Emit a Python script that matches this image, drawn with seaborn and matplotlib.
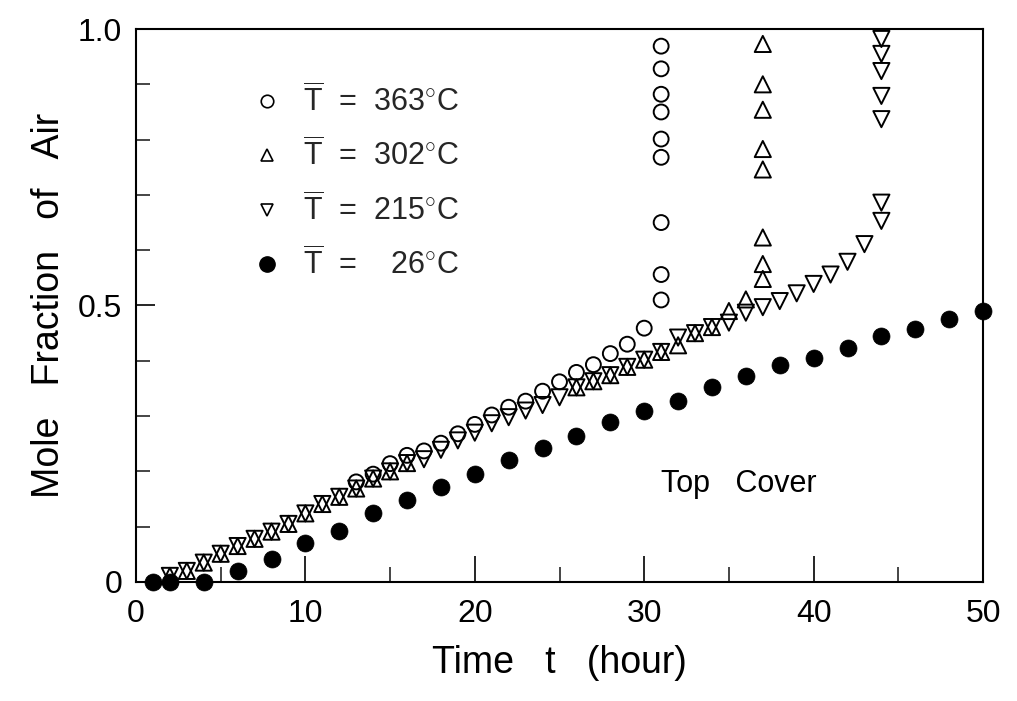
import matplotlib
matplotlib.use("Agg")
import matplotlib.pyplot as plt
from matplotlib.lines import Line2D
from matplotlib.ticker import MultipleLocator
import seaborn as sns
import pandas as pd

# ---------------- data ----------------
# T = 26 C (filled circles)
x_26 = [1, 2, 4, 6, 8, 10, 12, 14, 16, 18, 20, 22, 24, 26, 28, 30,
        32, 34, 36, 38, 40, 42, 44, 46, 48, 50]
y_26 = [0.0, 0.0, 0.0, 0.019, 0.041, 0.071, 0.093, 0.124, 0.149, 0.171,
        0.195, 0.220, 0.243, 0.264, 0.289, 0.309, 0.327, 0.352, 0.373,
        0.392, 0.405, 0.423, 0.445, 0.458, 0.476, 0.490]

# T = 363 C (open circles)
x_363 = [13, 14, 15, 16, 17, 18, 19, 20, 21, 22, 23, 24, 25, 26, 27, 28,
         29, 30, 31, 31, 31, 31, 31, 31, 31, 31, 31]
y_363 = [0.181, 0.195, 0.214, 0.229, 0.237, 0.251, 0.268, 0.285, 0.302,
         0.316, 0.327, 0.345, 0.362, 0.379, 0.393, 0.413, 0.430, 0.459,
         0.510, 0.556, 0.650, 0.768, 0.801, 0.850, 0.882, 0.928, 0.969]

# T = 302 C (up triangles)
x_302 = [2, 3, 4, 5, 6, 7, 8, 9, 10, 11, 12, 13, 14, 15, 16,
         26, 27, 28, 29, 30, 31, 32, 33, 34, 35, 36,
         37, 37, 37, 37, 37, 37, 37, 37]
y_302 = [0.011, 0.020, 0.035, 0.051, 0.065, 0.078, 0.091, 0.105, 0.124,
         0.141, 0.154, 0.169, 0.187, 0.200, 0.215,
         0.352, 0.363, 0.374, 0.389, 0.402, 0.416, 0.428, 0.450, 0.461,
         0.490, 0.511,
         0.548, 0.575, 0.623, 0.746, 0.783, 0.854, 0.900, 0.973]

# T = 215 C (down triangles)
x_215 = [2, 3, 4, 5, 6, 7, 8, 9, 10, 11, 12, 13, 14, 15, 16,
         17, 18, 19, 20, 21, 22, 23, 24, 25, 26, 27, 28, 29, 30, 31,
         32, 33, 34, 35, 36, 37, 38, 39, 40, 41, 42, 43, 44,
         44, 44, 44, 44, 44, 44]
y_215 = [0.011, 0.020, 0.035, 0.051, 0.065, 0.078, 0.091, 0.105, 0.124,
         0.141, 0.154, 0.169, 0.187, 0.200, 0.215,
         0.222, 0.239, 0.256, 0.270, 0.287, 0.298, 0.310, 0.320, 0.334,
         0.352, 0.363, 0.374, 0.389, 0.402, 0.416, 0.442, 0.450, 0.461,
         0.469, 0.487, 0.497, 0.508, 0.522, 0.539, 0.556, 0.579, 0.611,
         0.653,
         0.686, 0.837, 0.879, 0.924, 0.955, 0.982]

labels = [r"$\overline{\mathrm{T}}$  =  363$^{\circ}$C",
          r"$\overline{\mathrm{T}}$  =  302$^{\circ}$C",
          r"$\overline{\mathrm{T}}$  =  215$^{\circ}$C",
          r"$\overline{\mathrm{T}}$  =    26$^{\circ}$C"]

x_ticks = [0, 10, 20, 30, 40, 50]
y_ticks = [0, 0.5, 1.0]
y_tick_labels = ["0", "0.5", "1.0"]

# ---------------- style ----------------
sns.set_theme(style="white")
plt.rcParams["font.family"] = ["Liberation Sans", "DejaVu Sans"]
plt.rcParams["mathtext.fontset"] = "custom"
plt.rcParams["mathtext.rm"] = "Liberation Sans"
plt.rcParams["mathtext.it"] = "Liberation Sans"

fig = plt.figure(figsize=(10.17, 7.01), dpi=100)
ax = fig.add_axes([0.1337, 0.1698, 0.8329, 0.7888])

df26 = pd.DataFrame({"t": x_26, "f": y_26})
df363 = pd.DataFrame({"t": x_363, "f": y_363})
df302 = pd.DataFrame({"t": x_302, "f": y_302})
df215 = pd.DataFrame({"t": x_215, "f": y_215})

common = dict(ax=ax, legend=False, clip_on=False, zorder=3)
sns.scatterplot(data=df363, x="t", y="f", marker="o", s=115,
                facecolor="none", edgecolor="black", linewidth=1.4, **common)
sns.scatterplot(data=df302, x="t", y="f", marker="^", s=135,
                facecolor="none", edgecolor="black", linewidth=1.4, **common)
sns.scatterplot(data=df215, x="t", y="f", marker="v", s=135,
                facecolor="none", edgecolor="black", linewidth=1.4, **common)
sns.scatterplot(data=df26, x="t", y="f", marker="o", s=150,
                color="black", edgecolor="black", linewidth=0.5, **common)

ax.set_xlim(0, 50)
ax.set_ylim(0, 1.0)

for sp in ax.spines.values():
    sp.set_visible(True)
    sp.set_color("black")
    sp.set_linewidth(1.5)

ax.set_xticks(x_ticks)
ax.set_xticklabels([str(v) for v in x_ticks])
ax.set_yticks(y_ticks)
ax.set_yticklabels(y_tick_labels)
ax.xaxis.set_minor_locator(MultipleLocator(5))
ax.yaxis.set_minor_locator(MultipleLocator(0.1))
ax.tick_params(axis="x", which="major", direction="in", length=19, width=1.2,
               labelsize=23, pad=12, colors="black", bottom=True)
ax.tick_params(axis="x", which="minor", direction="in", length=11, width=1.2,
               bottom=True)
ax.tick_params(axis="y", which="major", direction="in", length=14, width=1.2,
               labelsize=23, pad=10, colors="black", left=True)
ax.tick_params(axis="y", which="minor", direction="in", length=10, width=1.2,
               left=True)

ax.set_xlabel("Time   t   (hour)", fontsize=27, labelpad=12, color="black")
ax.set_ylabel("Mole   Fraction   of   Air", fontsize=27, labelpad=8,
              color="black")

ax.text(35.6, 0.177, "Top   Cover", fontsize=22, ha="center", va="center",
        color="black")

handles = [
    Line2D([], [], ls="none", marker="o", ms=9, mfc="none", mec="black", mew=1.2),
    Line2D([], [], ls="none", marker="^", ms=9, mfc="none", mec="black", mew=1.2),
    Line2D([], [], ls="none", marker="v", ms=9, mfc="none", mec="black", mew=1.2),
    Line2D([], [], ls="none", marker="o", ms=11, mfc="black", mec="black"),
]
leg = ax.legend(handles, labels, loc="upper left", bbox_to_anchor=(0.1, 0.95),
                frameon=False, fontsize=22, labelspacing=0.66,
                handletextpad=0.6, handlelength=1.2)

fig.savefig("out.png", dpi=100)
